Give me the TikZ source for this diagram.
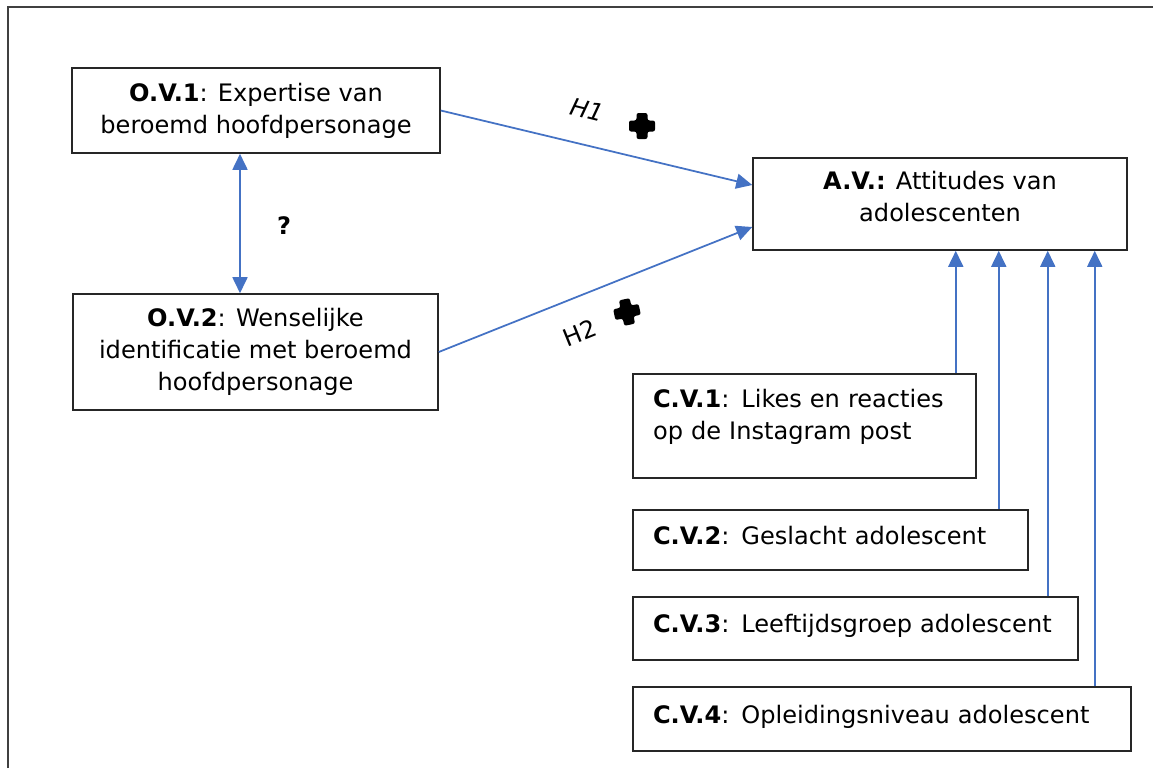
\documentclass[tikz,border=0pt]{standalone}
\usepackage{fontspec}
\setmainfont{DejaVu Sans}
\usepackage{tikz}
\usetikzlibrary{positioning, arrows.meta}
\definecolor{arrowblue}{RGB}{68,114,196}

\begin{document}
\begin{tikzpicture}[
		x=0.02cm, y=-0.02cm,
		box/.style={draw=black!85, line width=0.9pt, align=center, inner sep=0pt,
			font=\fontsize{13.7}{18.2}\selectfont},
		cvbox/.style={box, align=left, inner xsep=0.4cm, text depth=0.2cm},
		flow/.style={draw=arrowblue, line width=1pt, -{Triangle[width=0.3cm,length=0.32cm]}},
		lbl/.style={font=\fontsize{13.7}{15}\selectfont, inner sep=0pt},
		heavyplus/.pic={
			\fill[black, rounded corners=1.2pt] (-5.5,-13) -- (5.5,-13) -- (5.5,-5.5) -- (13,-5.5)
				-- (13,5.5) -- (5.5,5.5) -- (5.5,13) -- (-5.5,13) -- (-5.5,5.5) -- (-13,5.5)
				-- (-13,-5.5) -- (-5.5,-5.5) -- cycle;
		}]
		\useasboundingbox (0,0) rectangle (1153,768);
		\draw[black!75, line width=1.4pt] (8,768) -- (8,7) -- (1153,7);

		\node[box, minimum width=7.36cm, minimum height=1.7cm] (ov1) at (256,110.5)
			{\textbf{O.V.1}: Expertise van\\beroemd hoofdpersonage};
		\node[box, minimum width=7.3cm, minimum height=2.32cm] (ov2) at (255.5,352)
			{\textbf{O.V.2}: Wenselijke\\identificatie met beroemd\\hoofdpersonage};
		\node[box, minimum width=7.48cm, minimum height=1.84cm, text depth=0.3cm] (av) at (940,204)
			{\textbf{A.V.:} Attitudes van\\adolescenten};
		\node[cvbox, text width=6.06cm, minimum height=2.08cm, text depth=1.1cm] (cv1) at (804.5,426)
			{\textbf{C.V.1}: Likes en reacties\\op de Instagram post};
		\node[cvbox, text width=7.1cm, minimum height=1.2cm] (cv2) at (830.5,540)
			{\textbf{C.V.2}: Geslacht adolescent};
		\node[cvbox, text width=8.1cm, minimum height=1.26cm] (cv3) at (855.5,628.5)
			{\textbf{C.V.3}: Leeftijdsgroep adolescent};
		\node[cvbox, text width=9.16cm, minimum height=1.28cm] (cv4) at (882,719)
			{\textbf{C.V.4}: Opleidingsniveau adolescent};

		\draw[flow, {Triangle[width=0.3cm,length=0.32cm]}-{Triangle[width=0.3cm,length=0.32cm]}]
			([xshift=-0.32cm]ov1.south) -- ([xshift=-0.31cm]ov2.north);
		\node[lbl] (q) at (284,226) {\textbf{?}};

		\draw[flow] (ov1.east) -- ([yshift=0.38cm]av.west);
		\draw[flow] (ov2.east) -- ([yshift=-0.46cm]av.west);
		\node[lbl, rotate=-14] (h1) at (587,110) {\textit{H1}};
		\node[lbl, rotate=22] (h2) at (580,333) {H2};
		\pic at (642,126) {heavyplus};
		\pic[rotate=12] at (627,312) {heavyplus};

		\draw[flow] ([xshift=-0.42cm]cv1.north east) -- ([xshift=-0.42cm]cv1.north east |- av.south);
		\draw[flow] ([xshift=-0.6cm]cv2.north east) -- ([xshift=-0.6cm]cv2.north east |- av.south);
		\draw[flow] ([xshift=-0.62cm]cv3.north east) -- ([xshift=-0.62cm]cv3.north east |- av.south);
		\draw[flow] ([xshift=-0.74cm]cv4.north east) -- ([xshift=-0.74cm]cv4.north east |- av.south);
\end{tikzpicture}
\end{document}
